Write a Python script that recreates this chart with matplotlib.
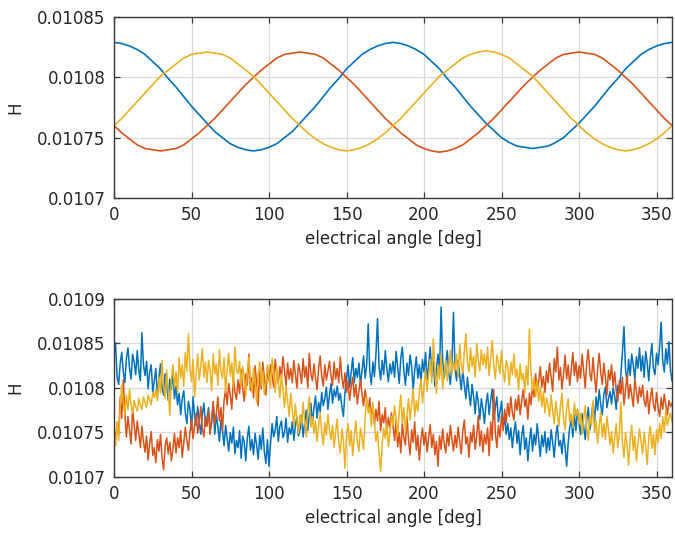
"""Inductance vs electrical angle: FEM curves (top) and measured samples (bottom)."""
import numpy as np
import matplotlib
matplotlib.use("Agg")
import matplotlib.pyplot as plt

# values in micro-henry
FEM_STEP_DEG = 5
FEM_A = [10829, 10828, 10826, 10823, 10819, 10813, 10807, 10799, 10792, 10784, 10776, 10769, 10762, 10755, 10750, 10745, 10742, 10740, 10739,
         10740, 10742, 10745, 10750, 10755, 10762, 10769, 10776, 10784, 10792, 10799, 10807, 10813, 10819, 10823, 10826, 10828, 10829,
         10828, 10826, 10823, 10819, 10813, 10807, 10799, 10792, 10784, 10776, 10769, 10762, 10756, 10750, 10746, 10743, 10742, 10741,
         10742, 10743, 10746, 10750, 10756, 10762, 10769, 10776, 10784, 10792, 10799, 10807, 10813, 10819, 10823, 10826, 10828, 10829]
FEM_B = [10760, 10754, 10749, 10744, 10741, 10740, 10739,
         10740, 10741, 10744, 10749, 10754, 10760, 10766, 10773, 10780, 10787, 10794, 10800, 10806, 10811, 10816, 10819, 10820, 10821,
         10820, 10819, 10816, 10811, 10806, 10800, 10794, 10787, 10780, 10773, 10766, 10760, 10754, 10749, 10744, 10741, 10739, 10738,
         10739, 10741, 10744, 10749, 10754, 10760, 10766, 10773, 10780, 10787, 10794, 10800, 10806, 10811, 10816, 10819, 10820, 10821,
         10820, 10819, 10816, 10811, 10806, 10800, 10794, 10787, 10780, 10773, 10766, 10760]
FEM_C = [10760, 10766, 10773, 10780, 10787, 10794, 10801, 10806, 10811, 10816, 10819, 10820, 10821,
         10820, 10819, 10816, 10811, 10806, 10801, 10794, 10787, 10780, 10773, 10766, 10760, 10754, 10749, 10745, 10742, 10740, 10739,
         10740, 10742, 10745, 10749, 10754, 10760, 10766, 10773, 10780, 10787, 10794, 10801, 10806, 10811, 10816, 10819, 10821, 10822,
         10821, 10819, 10816, 10811, 10806, 10801, 10794, 10787, 10780, 10773, 10766, 10760, 10754, 10749, 10745, 10742, 10740, 10739,
         10740, 10742, 10745, 10749, 10754, 10760]

# measured, one sample per degree (0..360)
MEAS_A = [
    10836, 10851, 10812, 10804, 10828, 10840, 10818, 10806, 10833, 10845, 10822, 10810, 10838, 10829, 10815, 10842, 10820, 10808, 10862, 10826,
    10814, 10830, 10799, 10818, 10826, 10795, 10808, 10822, 10790, 10812, 10827, 10800, 10792, 10816, 10804, 10786, 10810, 10798, 10819, 10788,
    10802, 10781, 10794, 10770, 10788, 10797, 10772, 10760, 10785, 10776, 10753, 10790, 10768, 10758, 10779, 10762, 10748, 10771, 10783, 10757,
    10766, 10778, 10752, 10761, 10783, 10748, 10770, 10757, 10740, 10764, 10752, 10735, 10758, 10744, 10729, 10750, 10738, 10756, 10726, 10741,
    10733, 10752, 10721, 10746, 10739, 10718, 10744, 10757, 10730, 10742, 10725, 10749, 10736, 10720, 10747, 10731, 10755, 10728, 10715, 10742,
    10712, 10738, 10760, 10745, 10752, 10768, 10740, 10757, 10763, 10744, 10750, 10766, 10739, 10755, 10748, 10762, 10741, 10758, 10767, 10746,
    10753, 10769, 10745, 10761, 10775, 10752, 10770, 10783, 10760, 10778, 10791, 10766, 10784, 10773, 10795, 10780, 10788, 10801, 10776, 10792,
    10805, 10783, 10798, 10790, 10802, 10786, 10794, 10779, 10768, 10795, 10810, 10826, 10801, 10818, 10834, 10806, 10822, 10812, 10828, 10803,
    10820, 10836, 10811, 10826, 10872, 10818, 10804, 10829, 10813, 10838, 10878, 10824, 10809, 10831, 10815, 10842, 10822, 10807, 10827, 10816,
    10830, 10812, 10841, 10823, 10805, 10833, 10846, 10819, 10803, 10828, 10814, 10837, 10824, 10798, 10820, 10835, 10811, 10826, 10806, 10832,
    10818, 10840, 10809, 10825, 10846, 10813, 10830, 10802, 10821, 10838, 10815, 10891, 10832, 10811, 10826, 10842, 10816, 10804, 10829, 10885,
    10822, 10808, 10831, 10815, 10798, 10820, 10803, 10788, 10812, 10795, 10780, 10804, 10790, 10771, 10796, 10784, 10765, 10788, 10776, 10760,
    10783, 10794, 10770, 10786, 10799, 10765, 10778, 10790, 10762, 10773, 10785, 10756, 10768, 10748, 10760, 10742, 10755, 10733, 10750, 10762,
    10738, 10752, 10725, 10746, 10758, 10731, 10744, 10718, 10740, 10755, 10729, 10748, 10736, 10760, 10742, 10723, 10747, 10734, 10751, 10727,
    10744, 10730, 10753, 10739, 10722, 10746, 10758, 10735, 10741, 10726, 10749, 10733, 10712, 10738, 10756, 10764, 10745, 10770, 10752, 10775,
    10760, 10748, 10771, 10756, 10742, 10765, 10778, 10753, 10768, 10783, 10762, 10790, 10775, 10798, 10781, 10770, 10793, 10801, 10778, 10788,
    10796, 10782, 10800, 10791, 10776, 10803, 10795, 10815, 10840, 10869, 10821, 10806, 10832, 10814, 10838, 10826, 10810, 10835, 10822, 10845,
    10819, 10836, 10812, 10841, 10828, 10808, 10833, 10850, 10822, 10815, 10839, 10826, 10847, 10874, 10830, 10818, 10844, 10827, 10852, 10820,
    10808]
MEAS_B = [
    10754, 10742, 10761, 10748, 10790, 10766, 10809, 10772, 10745, 10768, 10752, 10737, 10776, 10758, 10741, 10763, 10749, 10733, 10757, 10740,
    10728, 10746, 10719, 10738, 10751, 10724, 10733, 10716, 10742, 10729, 10748, 10721, 10708, 10735, 10744, 10726, 10739, 10718, 10731, 10749,
    10727, 10744, 10733, 10752, 10722, 10738, 10756, 10741, 10730, 10750, 10765, 10743, 10758, 10772, 10749, 10762, 10779, 10754, 10745, 10768,
    10757, 10774, 10748, 10766, 10785, 10759, 10771, 10790, 10763, 10778, 10752, 10786, 10798, 10781, 10805, 10792, 10776, 10812, 10795, 10787,
    10809, 10794, 10821, 10800, 10785, 10816, 10803, 10838, 10797, 10812, 10789, 10825, 10806, 10780, 10818, 10799, 10829, 10810, 10792, 10823,
    10808, 10826, 10814, 10801, 10832, 10817, 10805, 10824, 10812, 10835, 10819, 10803, 10828, 10810, 10822, 10806, 10831, 10815, 10800, 10827,
    10818, 10805, 10833, 10812, 10824, 10800, 10839, 10816, 10808, 10827, 10811, 10798, 10822, 10836, 10813, 10802, 10826, 10809, 10819, 10830,
    10814, 10803, 10829, 10810, 10822, 10806, 10835, 10812, 10800, 10817, 10795, 10808, 10786, 10801, 10812, 10790, 10804, 10782, 10797, 10809,
    10793, 10780, 10798, 10786, 10775, 10789, 10768, 10781, 10759, 10776, 10763, 10785, 10752, 10770, 10761, 10778, 10748, 10767, 10755, 10772,
    10758, 10741, 10765, 10734, 10750, 10727, 10760, 10744, 10736, 10768, 10742, 10725, 10753, 10739, 10762, 10730, 10747, 10719, 10741, 10755,
    10736, 10750, 10728, 10745, 10759, 10733, 10748, 10725, 10740, 10712, 10746, 10731, 10754, 10738, 10727, 10749, 10735, 10758, 10742, 10729,
    10747, 10733, 10756, 10740, 10726, 10751, 10764, 10737, 10745, 10722, 10750, 10739, 10758, 10731, 10746, 10769, 10735, 10752, 10728, 10748,
    10737, 10755, 10724, 10762, 10741, 10798, 10750, 10733, 10758, 10745, 10769, 10752, 10776, 10761, 10783, 10768, 10790, 10772, 10764, 10787,
    10775, 10792, 10770, 10786, 10798, 10779, 10788, 10765, 10794, 10781, 10802, 10790, 10816, 10797, 10808, 10824, 10801, 10813, 10795, 10819,
    10806, 10828, 10812, 10796, 10833, 10818, 10846, 10809, 10823, 10799, 10815, 10837, 10810, 10826, 10803, 10821, 10840, 10814, 10829, 10807,
    10825, 10811, 10838, 10819, 10800, 10830, 10843, 10816, 10808, 10834, 10813, 10795, 10822, 10839, 10817, 10804, 10828, 10812, 10792, 10820,
    10809, 10826, 10802, 10818, 10797, 10785, 10808, 10793, 10812, 10781, 10799, 10815, 10788, 10804, 10792, 10779, 10810, 10796, 10783, 10801,
    10790, 10803, 10786, 10779, 10797, 10771, 10788, 10800, 10782, 10774, 10795, 10778, 10768, 10789, 10776, 10793, 10781, 10770, 10786, 10779,
    10783]
MEAS_C = [
    10748, 10735, 10762, 10741, 10778, 10803, 10784, 10770, 10792, 10776, 10798, 10781, 10772, 10786, 10779, 10774, 10788, 10781, 10776, 10790,
    10784, 10778, 10792, 10787, 10781, 10795, 10789, 10799, 10786, 10812, 10794, 10831, 10803, 10788, 10820, 10797, 10769, 10809, 10826, 10800,
    10818, 10795, 10834, 10811, 10826, 10802, 10840, 10819, 10861, 10823, 10807, 10832, 10790, 10815, 10838, 10809, 10825, 10844, 10812, 10829,
    10806, 10831, 10820, 10797, 10838, 10816, 10827, 10803, 10843, 10818, 10811, 10834, 10795, 10822, 10839, 10813, 10828, 10800, 10846, 10821,
    10816, 10830, 10802, 10824, 10812, 10791, 10818, 10835, 10807, 10796, 10822, 10810, 10784, 10815, 10829, 10803, 10819, 10793, 10808, 10826,
    10812, 10800, 10833, 10818, 10795, 10824, 10806, 10789, 10815, 10798, 10778, 10802, 10785, 10768, 10794, 10776, 10757, 10782, 10764, 10749,
    10770, 10758, 10784, 10762, 10745, 10775, 10790, 10756, 10768, 10749, 10763, 10740, 10758, 10772, 10751, 10736, 10761, 10747, 10770, 10753,
    10742, 10758, 10733, 10751, 10765, 10738, 10727, 10754, 10741, 10710, 10748, 10760, 10735, 10752, 10724, 10746, 10763, 10739, 10729, 10755,
    10744, 10731, 10768, 10790, 10772, 10779, 10757, 10784, 10762, 10740, 10751, 10727, 10706, 10738, 10755, 10743, 10760, 10734, 10749, 10768,
    10758, 10780, 10765, 10746, 10773, 10792, 10760, 10778, 10751, 10770, 10788, 10764, 10782, 10799, 10768, 10786, 10774, 10795, 10810, 10783,
    10802, 10821, 10796, 10815, 10832, 10806, 10855, 10819, 10794, 10826, 10810, 10838, 10799, 10817, 10831, 10808, 10824, 10842, 10815, 10829,
    10820, 10838, 10812, 10849, 10827, 10816, 10840, 10861, 10829, 10818, 10845, 10824, 10836, 10812, 10850, 10831, 10819, 10843, 10826, 10838,
    10822, 10846, 10814, 10833, 10853, 10825, 10810, 10837, 10828, 10816, 10842, 10819, 10807, 10831, 10824, 10803, 10829, 10815, 10838, 10812,
    10821, 10798, 10827, 10809, 10816, 10794, 10825, 10803, 10866, 10818, 10797, 10812, 10790, 10808, 10785, 10801, 10779, 10796, 10772, 10789,
    10781, 10768, 10792, 10774, 10760, 10785, 10770, 10757, 10779, 10794, 10766, 10753, 10777, 10788, 10762, 10771, 10755, 10783, 10769, 10776,
    10760, 10772, 10748, 10766, 10780, 10754, 10741, 10769, 10758, 10786, 10750, 10763, 10738, 10757, 10773, 10745, 10760, 10742, 10768, 10753,
    10736, 10751, 10727, 10744, 10760, 10733, 10748, 10784, 10739, 10722, 10750, 10735, 10713, 10742, 10758, 10730, 10746, 10718, 10737, 10754,
    10741, 10726, 10750, 10735, 10714, 10744, 10757, 10732, 10748, 10725, 10753, 10739, 10760, 10743, 10768, 10751, 10775, 10758, 10766, 10772,
    10762]

X_TICKS = [0, 50, 100, 150, 200, 250, 300, 350]
Y_TICKS_TOP = [0.0107, 0.01075, 0.0108, 0.01085]
Y_TICKS_BOTTOM = [0.0107, 0.01075, 0.0108, 0.01085, 0.0109]

COLORS = ["#0072BD", "#D95319", "#EDB120"]  # octave default order
SPINE = "#3a3a3a"
GRID = "#dadada"
TEXT = "#262626"

plt.rcParams["font.family"] = "DejaVu Sans"
plt.rcParams["font.size"] = 12


def style_axes(ax, yticks):
    ax.set_xlim(0, 360)
    ax.set_ylim(yticks[0], yticks[-1])
    ax.set_xticks(X_TICKS)
    ax.set_yticks(yticks, [f"{t:g}" for t in yticks])
    ax.grid(True, color=GRID, linewidth=0.9)
    ax.set_axisbelow(True)
    ax.tick_params(direction="in", top=True, right=True, length=4, width=0.9,
                   color=SPINE, labelcolor=TEXT, pad=6)
    for sp in ax.spines.values():
        sp.set_color(SPINE)
        sp.set_linewidth(1.0)
    ax.set_xlabel("electrical angle [deg]", color=TEXT)
    ax.set_ylabel("H", color=TEXT)
    # rotated label is anchored at its right edge -> centre lands near x=15px
    ax.yaxis.set_label_coords(-0.16, 0.5)


fig = plt.figure(figsize=(6.75, 5.33), dpi=100)
ax_top = fig.add_axes([0.1689, 0.6285, 0.8267, 0.3396])
ax_bot = fig.add_axes([0.1689, 0.1051, 0.8267, 0.3340])

fem_angle = np.arange(len(FEM_A)) * FEM_STEP_DEG
for vals, c in zip([FEM_A, FEM_B, FEM_C], COLORS):
    ax_top.plot(fem_angle, np.array(vals) * 1e-6, color=c, linewidth=1.2)

for vals, c in zip([MEAS_A, MEAS_B, MEAS_C], COLORS):
    ax_bot.plot(np.arange(len(vals)), np.array(vals) * 1e-6, color=c, linewidth=1.1)

style_axes(ax_top, Y_TICKS_TOP)
style_axes(ax_bot, Y_TICKS_BOTTOM)

fig.savefig("out.png", dpi=100, facecolor="white")
